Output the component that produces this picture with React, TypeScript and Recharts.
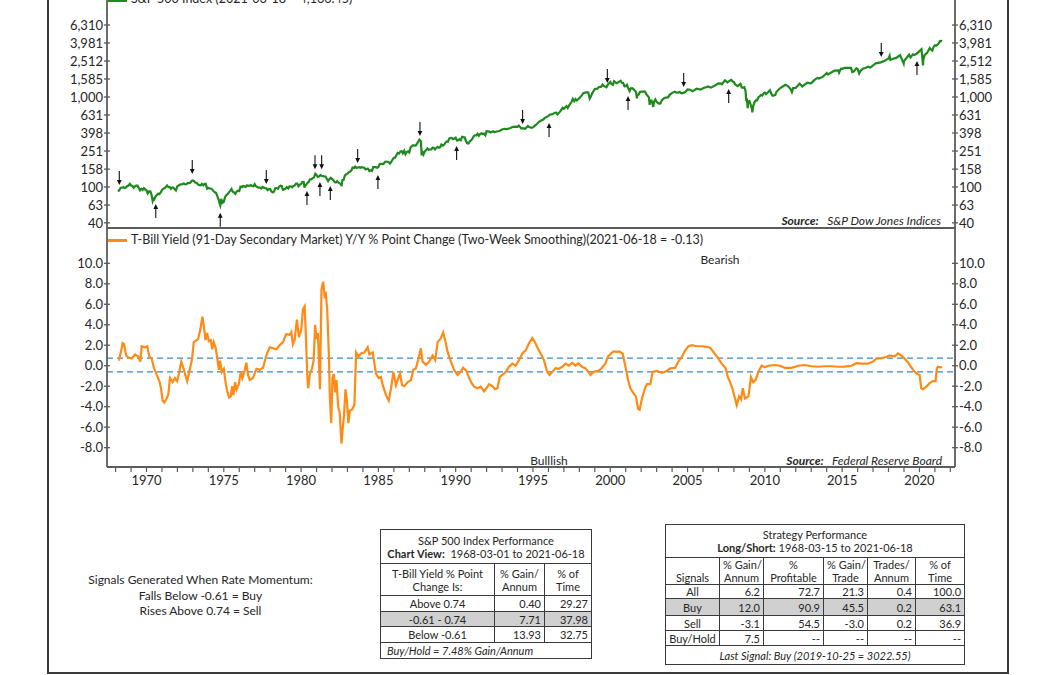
import React from 'react';
import { ComposedChart, Line, XAxis, YAxis, ReferenceLine, ReferenceDot } from 'recharts';

// ---------------- DATA ----------------
// S&P 500 index (decimal year, level)
const spPoints: [number, number][] = [
  [1968.17, 89], [1968.33, 97.5], [1968.42, 98.7], [1968.5, 99.6], [1968.58, 97.7], [1968.67, 98.9], [1968.75, 102.7], [1968.83, 103.4], [1968.92, 108.4], [1969.0, 103.9],
  [1969.08, 103], [1969.17, 98.1], [1969.25, 101.5], [1969.33, 103.7], [1969.42, 103.5], [1969.5, 97.7], [1969.58, 91.8], [1969.67, 95.5], [1969.75, 93.1], [1969.83, 97.2], [1969.92, 93.8], [1970.0, 92.1],
  [1970.08, 85.0], [1970.17, 89.5], [1970.25, 89.6], [1970.33, 81.5], [1970.4, 70.0], [1970.45, 74], [1970.5, 72.7], [1970.58, 78.1], [1970.67, 81.5], [1970.75, 84.3], [1970.83, 83.3], [1970.92, 87.2], [1971.0, 92.2],
  [1971.08, 95.9], [1971.17, 96.8], [1971.25, 100.3], [1971.33, 103.9], [1971.42, 99.6], [1971.5, 99.7], [1971.58, 95.6], [1971.67, 99.0], [1971.75, 98.3], [1971.83, 94.2], [1971.9, 91.5], [1972.0, 102.1],
  [1972.08, 103.9], [1972.17, 106.6], [1972.25, 107.2], [1972.33, 107.7], [1972.42, 109.5], [1972.5, 107.1], [1972.58, 107.4], [1972.67, 111.1], [1972.75, 110.6], [1972.83, 111.6], [1972.92, 116.7], [1973.0, 118.1],
  [1973.08, 116.0], [1973.17, 111.7], [1973.25, 111.5], [1973.33, 107.0], [1973.42, 105.0], [1973.5, 104.3], [1973.58, 108.2], [1973.67, 104.3], [1973.75, 108.4], [1973.83, 108.3], [1973.92, 96.0], [1974.0, 97.6],
  [1974.08, 96.6], [1974.17, 96.2], [1974.25, 94.0], [1974.33, 90.3], [1974.42, 87.3], [1974.5, 86.0], [1974.58, 79.3], [1974.67, 72.2], [1974.75, 63.5], [1974.77, 62.3], [1974.83, 73.9], [1974.92, 67], [1975.0, 68.6],
  [1975.08, 77.0], [1975.17, 81.6], [1975.25, 83.4], [1975.33, 87.3], [1975.42, 91.2], [1975.5, 95.2], [1975.58, 88.8], [1975.67, 86.9], [1975.75, 83.9], [1975.83, 89.0], [1975.92, 91.2], [1976.0, 90.2],
  [1976.08, 100.9], [1976.17, 99.7], [1976.25, 102.8], [1976.33, 101.6], [1976.42, 100.2], [1976.5, 104.3], [1976.58, 103.4], [1976.67, 102.9], [1976.75, 105.2], [1976.83, 102.9], [1976.92, 102.1], [1977.0, 107.5],
  [1977.08, 102.0], [1977.17, 99.8], [1977.25, 98.4], [1977.33, 98.4], [1977.42, 96.1], [1977.5, 100.5], [1977.58, 98.9], [1977.67, 96.8], [1977.75, 96.5], [1977.83, 92.3], [1977.92, 94.8], [1978.0, 95.1],
  [1978.08, 89.3], [1978.17, 87.0], [1978.25, 89.2], [1978.33, 96.8], [1978.42, 97.2], [1978.5, 95.5], [1978.58, 100.7], [1978.67, 103.3], [1978.75, 102.5], [1978.83, 93.2], [1978.92, 94.7], [1979.0, 96.1],
  [1979.08, 99.9], [1979.17, 96.3], [1979.25, 101.6], [1979.33, 101.8], [1979.42, 99.1], [1979.5, 102.9], [1979.58, 103.8], [1979.67, 109.3], [1979.75, 109.3], [1979.83, 101.8], [1979.92, 106.2], [1980.0, 107.9],
  [1980.08, 114.2], [1980.17, 113.7], [1980.22, 98.2], [1980.25, 102.1], [1980.33, 106.3], [1980.42, 111.2], [1980.5, 114.2], [1980.58, 121.7], [1980.67, 122.4], [1980.75, 125.5], [1980.83, 127.5], [1980.92, 140.5], [1981.0, 135.8],
  [1981.08, 129.6], [1981.17, 131.3], [1981.25, 136.0], [1981.33, 132.8], [1981.42, 132.6], [1981.5, 131.2], [1981.58, 130.9], [1981.67, 122.8], [1981.75, 116.2], [1981.83, 121.9], [1981.92, 126.4], [1982.0, 122.6],
  [1982.08, 120.4], [1982.17, 113.1], [1982.25, 112.0], [1982.33, 116.4], [1982.42, 111.9], [1982.5, 109.6], [1982.58, 107.1], [1982.62, 102.4], [1982.67, 119.5], [1982.75, 120.4], [1982.83, 133.7], [1982.92, 138.5], [1983.0, 140.6],
  [1983.08, 145.3], [1983.17, 148.1], [1983.25, 153.0], [1983.33, 164.4], [1983.42, 162.4], [1983.5, 168.1], [1983.58, 162.6], [1983.67, 164.4], [1983.75, 166.1], [1983.83, 163.6], [1983.92, 166.4], [1984.0, 164.9],
  [1984.08, 163.4], [1984.17, 157.1], [1984.25, 159.2], [1984.33, 160.1], [1984.42, 150.6], [1984.5, 153.2], [1984.58, 150.7], [1984.67, 166.7], [1984.75, 166.1], [1984.83, 166.1], [1984.92, 163.6], [1985.0, 167.2],
  [1985.08, 179.6], [1985.17, 181.2], [1985.25, 180.7], [1985.33, 179.8], [1985.42, 189.6], [1985.5, 191.9], [1985.58, 190.9], [1985.67, 188.6], [1985.75, 182.1], [1985.83, 189.8], [1985.92, 202.2], [1986.0, 211.3],
  [1986.08, 211.8], [1986.17, 226.9], [1986.25, 238.9], [1986.33, 235.5], [1986.42, 247.4], [1986.5, 250.8], [1986.58, 236.1], [1986.67, 252.9], [1986.75, 231.3], [1986.83, 244.0], [1986.92, 249.2], [1987.0, 242.2],
  [1987.08, 274.1], [1987.17, 284.2], [1987.25, 291.7], [1987.33, 288.4], [1987.42, 290.1], [1987.5, 304.0], [1987.58, 318.7], [1987.65, 336], [1987.75, 321.8], [1987.8, 224.8], [1987.83, 251.8], [1987.92, 230.3], [1988.0, 247.1],
  [1988.08, 257.1], [1988.17, 267.8], [1988.25, 258.9], [1988.33, 261.3], [1988.42, 262.2], [1988.5, 273.5], [1988.58, 272.0], [1988.67, 261.5], [1988.75, 271.9], [1988.83, 279.0], [1988.92, 273.7], [1989.0, 277.7],
  [1989.08, 297.5], [1989.17, 288.9], [1989.25, 294.9], [1989.33, 309.6], [1989.42, 320.5], [1989.5, 318.0], [1989.58, 346.1], [1989.67, 351.5], [1989.75, 349.2], [1989.83, 340.4], [1989.92, 346.0], [1990.0, 353.4],
  [1990.08, 329.1], [1990.17, 331.9], [1990.25, 339.9], [1990.33, 330.8], [1990.42, 361.2], [1990.5, 358.0], [1990.58, 356.2], [1990.67, 322.6], [1990.75, 306.1], [1990.83, 304.0], [1990.92, 322.2], [1991.0, 330.2],
  [1991.08, 343.9], [1991.17, 367.1], [1991.25, 375.2], [1991.33, 375.4], [1991.42, 389.8], [1991.5, 371.2], [1991.58, 387.8], [1991.67, 395.4], [1991.75, 387.9], [1991.83, 392.5], [1991.92, 375.2], [1992.0, 417.1],
  [1992.17, 412.7], [1992.25, 403.7], [1992.42, 415.4], [1992.5, 408.1], [1992.67, 414.0], [1992.83, 418.7], [1993.0, 435.7],
  [1993.17, 443.4], [1993.33, 440.2], [1993.5, 450.5], [1993.67, 463.6], [1993.83, 467.8], [1994.0, 466.5],
  [1994.08, 481.6], [1994.25, 445.8], [1994.33, 450.9], [1994.5, 444.3], [1994.67, 475.5], [1994.75, 462.7], [1994.92, 453.7], [1995.0, 459.3],
  [1995.17, 487.4], [1995.25, 500.7], [1995.42, 533.4], [1995.5, 544.8], [1995.67, 561.9], [1995.75, 584.4], [1995.92, 605.4], [1996.0, 615.9],
  [1996.08, 636.0], [1996.25, 645.5], [1996.42, 669.1], [1996.5, 670.6], [1996.58, 640.0], [1996.75, 687.3], [1996.92, 757.0], [1997.0, 740.7],
  [1997.17, 790.8], [1997.25, 757.1], [1997.33, 801.3], [1997.5, 885.1], [1997.58, 954.3], [1997.67, 899.5], [1997.75, 947.3], [1997.83, 914.6], [1998.0, 970.4],
  [1998.17, 1049.3], [1998.25, 1101.8], [1998.5, 1133.8], [1998.58, 1120.7], [1998.67, 957.3], [1998.75, 1017.0], [1998.83, 1098.7], [1999.0, 1229.2],
  [1999.17, 1238.3], [1999.25, 1286.4], [1999.42, 1301.8], [1999.5, 1372.7], [1999.58, 1328.7], [1999.75, 1282.7], [1999.83, 1362.9], [2000.0, 1469.3],
  [2000.08, 1394.5], [2000.17, 1366.4], [2000.25, 1498.6], [2000.33, 1452.4], [2000.42, 1420.6], [2000.5, 1454.6], [2000.67, 1517.7], [2000.75, 1436.5], [2000.83, 1429.4], [2000.92, 1315.2], [2001.0, 1320.3],
  [2001.08, 1366.0], [2001.17, 1239.9], [2001.25, 1160.3], [2001.33, 1249.5], [2001.42, 1255.8], [2001.5, 1224.4], [2001.67, 1133.6], [2001.72, 965.8], [2001.75, 1040.9], [2001.83, 1059.8], [2001.92, 1139.5], [2002.0, 1148.1],
  [2002.25, 1147.4], [2002.33, 1076.9], [2002.5, 989.8], [2002.55, 819.9], [2002.58, 911.6], [2002.67, 916.1], [2002.75, 815.3], [2002.78, 776.8], [2002.83, 885.8], [2002.92, 936.3], [2003.0, 879.8],
  [2003.17, 841.2], [2003.25, 848.2], [2003.33, 916.9], [2003.5, 974.5], [2003.75, 996.0], [2003.83, 1050.7], [2004.0, 1111.9],
  [2004.17, 1144.9], [2004.25, 1126.2], [2004.42, 1120.7], [2004.5, 1140.8], [2004.58, 1101.7], [2004.67, 1104.2], [2004.83, 1130.2], [2005.0, 1211.9],
  [2005.17, 1203.6], [2005.33, 1156.9], [2005.58, 1234.2], [2005.83, 1207.0], [2006.0, 1248.3],
  [2006.33, 1310.6], [2006.5, 1270.2], [2006.75, 1335.9], [2007.0, 1418.3],
  [2007.17, 1406.8], [2007.22, 1387], [2007.42, 1530.6], [2007.58, 1455.3], [2007.75, 1526.8], [2007.83, 1549.4], [2007.92, 1481.1], [2008.0, 1468.4],
  [2008.08, 1378.6], [2008.25, 1322.7], [2008.42, 1400.4], [2008.5, 1280.0], [2008.58, 1267.4], [2008.67, 1282.8], [2008.75, 1166.4], [2008.8, 899], [2008.83, 968.8], [2008.89, 752.4], [2008.92, 896.2], [2009.0, 903.3],
  [2009.08, 825.9], [2009.17, 735.1], [2009.19, 676.5], [2009.25, 797.9], [2009.33, 872.8], [2009.42, 919.1], [2009.5, 919.3], [2009.58, 987.5], [2009.67, 1020.6], [2009.75, 1057.1], [2009.83, 1036.2], [2009.92, 1095.6], [2010.0, 1115.1],
  [2010.08, 1073.9], [2010.33, 1186.7], [2010.42, 1089.4], [2010.5, 1030.7], [2010.67, 1049.3], [2010.75, 1141.2], [2011.0, 1257.6],
  [2011.33, 1363.6], [2011.5, 1320.6], [2011.67, 1218.9], [2011.75, 1131.4], [2011.83, 1253.3], [2012.0, 1257.6],
  [2012.25, 1408.5], [2012.42, 1310.3], [2012.75, 1440.7], [2012.92, 1416.2], [2013.0, 1426.2],
  [2013.25, 1569.2], [2013.42, 1630.7], [2013.5, 1606.3], [2013.75, 1681.6], [2014.0, 1848.4],
  [2014.08, 1782.6], [2014.5, 1960.2], [2014.75, 1972.3], [2014.8, 1862], [2014.92, 2067.6], [2015.0, 2058.9],
  [2015.17, 2104.5], [2015.42, 2107.4], [2015.58, 2103.8], [2015.65, 1893], [2015.75, 1920.0], [2015.92, 2080.4], [2016.0, 2043.9],
  [2016.1, 1829], [2016.17, 1932.2], [2016.33, 2065.3], [2016.5, 2098.9], [2016.67, 2171.0], [2016.83, 2126.2], [2017.0, 2238.8],
  [2017.17, 2363.6], [2017.5, 2423.4], [2017.75, 2519.4], [2018.0, 2673.6],
  [2018.07, 2872.9], [2018.12, 2581], [2018.25, 2640.9], [2018.5, 2718.4], [2018.75, 2914.0], [2018.83, 2711.7], [2018.98, 2351], [2019.0, 2506.9],
  [2019.25, 2834.4], [2019.33, 2945.8], [2019.42, 2752.1], [2019.58, 2980.4], [2019.67, 2926.5], [2019.83, 3037.6], [2020.0, 3230.8],
  [2020.13, 3386.2], [2020.17, 2954.2], [2020.23, 2237.4], [2020.25, 2584.6], [2020.33, 2912.4], [2020.5, 3100.3], [2020.67, 3500.3], [2020.75, 3363.0], [2020.83, 3270.0], [2020.92, 3621.6], [2021.0, 3756.1],
  [2021.08, 3714.2], [2021.17, 3811.2], [2021.25, 3972.9], [2021.33, 4181.2], [2021.42, 4204.1], [2021.46, 4166.5],
];

// Signal arrows on the S&P panel (decimal year, index level)
const sellSignals: [number, number][] = [
  [1968.24, 92.6], [1972.96, 122.7], [1977.75, 95], [1980.9, 139], [1981.33, 139], [1983.66, 162.6],
  [1987.69, 324], [1994.33, 441], [1999.81, 1259], [2004.75, 1136], [2017.53, 2449],
];
const buySignals: [number, number][] = [
  [1970.6, 73.6], [1974.77, 59], [1980.38, 102.6], [1981.22, 129], [1981.89, 116.6], [1984.97, 154.5],
  [1990.06, 324], [1996.04, 584], [2001.15, 1166], [2007.66, 1394], [2019.84, 2855],
];

// T-Bill yield Y/Y % point change (decimal year, value)
const tbPoints: [number, number][] = [
  [1968.17, 0.6], [1968.23, 0.6], [1968.35, 1.4], [1968.46, 2.2], [1968.55, 2.1], [1968.68, 1.0], [1968.83, 0.8], [1969.04, 0.7], [1969.26, 1.1], [1969.47, 0.9], [1969.6, 0.4],
  [1969.69, 1.9], [1969.9, 1.8], [1970.05, 1.9], [1970.18, 0.9], [1970.33, 0.7], [1970.48, -0.2], [1970.66, -0.9], [1970.83, -1.5], [1970.94, -2.2], [1971.04, -3.4], [1971.15, -3.6],
  [1971.3, -3.2], [1971.41, -2.8], [1971.52, -1.2], [1971.69, -1.6], [1971.84, -1.2], [1971.99, -1.5], [1972.12, -0.6], [1972.25, 0.4], [1972.38, -0.2], [1972.53, -1.0], [1972.63, -1.5],
  [1972.81, -0.3], [1972.94, 0.6], [1973.06, 2.3], [1973.34, 2.6], [1973.49, 3.6], [1973.62, 4.8], [1973.73, 3.6], [1973.82, 2.5], [1973.92, 3.2], [1974.03, 2.4], [1974.16, 2.5],
  [1974.25, 1.6], [1974.35, 2.3], [1974.48, 1.7], [1974.59, 0.6], [1974.68, -0.4], [1974.76, 0.5], [1974.87, -0.6], [1975.0, -0.3], [1975.13, -1.8], [1975.24, -2.6], [1975.34, -3.1],
  [1975.45, -3.0], [1975.54, -2.0], [1975.62, -2.9], [1975.73, -1.6], [1975.82, -2.3], [1975.97, -1.8], [1976.1, -0.6], [1976.2, -1.2], [1976.33, -0.6], [1976.46, 0.3], [1976.57, -0.9],
  [1976.68, -1.4], [1976.89, -1.2], [1977.11, -0.3], [1977.32, -0.4], [1977.54, -0.2], [1977.75, 1.0], [1977.97, 1.8], [1978.18, 1.7], [1978.4, 1.6], [1978.61, 2.0], [1978.83, 2.3],
  [1979.04, 3.1], [1979.26, 3.0], [1979.37, 3.3], [1979.47, 2.1], [1979.58, 2.5], [1979.73, 4.5], [1979.86, 2.8], [1980.01, 3.5], [1980.12, 5.5], [1980.23, 5.8], [1980.31, 3.0],
  [1980.4, -1.0], [1980.46, -2.2], [1980.57, -0.8], [1980.7, -0.3], [1980.81, 0.5], [1980.91, 4.0], [1981.0, 2.6], [1981.09, 3.2], [1981.22, -2.3], [1981.32, 7.5], [1981.43, 8.2],
  [1981.52, 6.8], [1981.6, 7.0], [1981.69, 5.5], [1981.8, 1.0], [1981.86, -3.0], [1981.95, -5.6], [1982.03, -1.2], [1982.12, -0.8], [1982.2, -2.6], [1982.29, -1.4], [1982.4, -4.0],
  [1982.5, -4.6], [1982.61, -7.6], [1982.7, -6.0], [1982.78, -4.8], [1982.87, -2.3], [1982.96, -3.3], [1983.06, -5.6], [1983.15, -4.4], [1983.3, -4.3], [1983.45, -3.8], [1983.56, 1.3],
  [1983.71, 0.9], [1983.88, 1.2], [1984.1, 1.3], [1984.31, 1.8], [1984.42, 1.1], [1984.63, 1.3], [1984.85, -0.8], [1985.02, -1.2], [1985.17, -1.1], [1985.28, -1.9], [1985.5, -2.9],
  [1985.67, -3.4], [1985.82, -2.2], [1985.97, -0.6], [1986.14, -1.9], [1986.29, -1.2], [1986.4, -0.75], [1986.53, -1.9], [1986.68, -2.0], [1986.9, -1.6], [1987.11, -1.4], [1987.26, -0.4],
  [1987.43, -0.25], [1987.6, 0.7], [1987.75, 1.7], [1987.86, 0.4], [1988.08, 0.1], [1988.29, 0.4], [1988.51, 1.0], [1988.68, 0.55], [1988.83, 2.3], [1989.04, 2.7], [1989.19, 3.25],
  [1989.32, 2.5], [1989.47, 1.4], [1989.69, 0.4], [1989.9, -0.4], [1990.12, -0.9], [1990.33, -0.6], [1990.48, -0.2], [1990.7, -0.5], [1990.87, -1.2], [1991.04, -1.7], [1991.19, -2.05],
  [1991.4, -2.2], [1991.62, -2.05], [1991.84, -2.5], [1991.99, -2.2], [1992.16, -1.8], [1992.38, -2.0], [1992.55, -2.3], [1992.7, -2.2], [1992.85, -1.1], [1993.02, -0.9], [1993.24, -0.6],
  [1993.45, -0.1], [1993.67, 0.2], [1993.88, 0.0], [1994.1, 0.55], [1994.31, 1.2], [1994.53, 1.5], [1994.74, 2.2], [1994.96, 2.7], [1995.13, 2.3], [1995.28, 1.8], [1995.49, 1.2],
  [1995.71, 0.55], [1995.92, -0.6], [1996.07, -0.9], [1996.25, -0.6], [1996.46, -0.25], [1996.68, -0.3], [1996.89, -0.1], [1997.11, 0.2], [1997.32, 0.0], [1997.54, 0.3], [1997.75, 0.0],
  [1997.92, 0.25], [1998.18, -0.1], [1998.39, -0.25], [1998.6, -0.6], [1998.71, -0.9], [1998.92, -0.6], [1999.25, -0.5], [1999.46, -0.2], [1999.68, 0.2], [1999.85, 0.9], [2000.06, 1.2],
  [2000.22, 1.4], [2000.43, 1.35], [2000.58, 1.4], [2000.8, 1.2], [2000.97, 0.0], [2001.15, -1.4], [2001.3, -2.2], [2001.51, -2.7], [2001.66, -3.0], [2001.8, -4.2], [2001.9, -4.3],
  [2002.05, -3.2], [2002.27, -2.1], [2002.38, -1.8], [2002.59, -1.8], [2002.74, -0.6], [2003.02, -0.5], [2003.34, -0.7], [2003.56, -0.6], [2003.88, -0.25], [2004.2, -0.2], [2004.42, 0.45],
  [2004.63, 0.85], [2004.85, 1.5], [2005.06, 1.9], [2005.28, 2.0], [2005.6, 1.9], [2005.92, 1.9], [2006.24, 1.85], [2006.46, 1.75], [2006.67, 1.35], [2006.95, 0.78], [2007.21, 0.2],
  [2007.47, -0.25], [2007.6, -1.1], [2007.75, -1.6], [2007.9, -2.2], [2008.07, -3.2], [2008.18, -3.85], [2008.33, -3.0], [2008.46, -3.3], [2008.57, -2.2], [2008.72, -3.2], [2008.94, -3.0],
  [2009.1, -1.1], [2009.25, -1.6], [2009.4, -1.4], [2009.58, -0.6], [2009.79, 0.0], [2010.01, -0.15], [2010.22, 0.0], [2010.65, 0.07], [2010.97, 0.0], [2011.3, -0.2], [2011.73, -0.2],
  [2012.16, 0.0], [2012.59, 0.07], [2013.02, -0.05], [2013.45, -0.1], [2013.88, -0.05], [2014.31, -0.05], [2014.74, -0.1], [2015.17, -0.08], [2015.6, 0.0], [2015.92, 0.25], [2016.24, 0.2],
  [2016.67, 0.2], [2017.0, 0.4], [2017.21, 0.7], [2017.53, 0.75], [2017.85, 0.85], [2018.07, 1.0], [2018.39, 0.9], [2018.61, 1.2], [2018.82, 1.0], [2019.04, 0.7], [2019.25, 0.35],
  [2019.47, -0.15], [2019.69, -0.6], [2019.8, -0.75], [2020.01, -0.9], [2020.12, -2.2], [2020.23, -2.3], [2020.44, -2.05], [2020.66, -1.7], [2020.87, -1.5], [2021.04, -1.5], [2021.13, -0.25],
  [2021.19, -0.1], [2021.32, -0.15], [2021.46, -0.13],
];

const sellThreshold = 0.74;
const buyThreshold = -0.61;

const spTicks = [40, 63, 100, 158, 251, 398, 631, 1000, 1585, 2512, 3981, 6310];
const spTickLabels = ['40', '63', '100', '158', '251', '398', '631', '1,000', '1,585', '2,512', '3,981', '6,310'];
const tbTicks = [-8, -6, -4, -2, 0, 2, 4, 6, 8, 10];
const tbTickLabels = ['-8.0', '-6.0', '-4.0', '-2.0', '0.0', '2.0', '4.0', '6.0', '8.0', '10.0'];
const yearTicks = [
  1968, 1969, 1970, 1971, 1972, 1973, 1974, 1975, 1976, 1977, 1978, 1979, 1980, 1981, 1982, 1983, 1984, 1985,
  1986, 1987, 1988, 1989, 1990, 1991, 1992, 1993, 1994, 1995, 1996, 1997, 1998, 1999, 2000, 2001, 2002, 2003,
  2004, 2005, 2006, 2007, 2008, 2009, 2010, 2011, 2012, 2013, 2014, 2015, 2016, 2017, 2018, 2019, 2020, 2021, 2022,
];
const yearLabels = [1970, 1975, 1980, 1985, 1990, 1995, 2000, 2005, 2010, 2015, 2020];

// Tables
const perfHeader = ['T-Bill Yield % Point Change Is:', '% Gain/ Annum', '% of Time'];
const perfRanges = ['Above 0.74', '-0.61 - 0.74', 'Below -0.61'];
const perfGain = ['0.40', '7.71', '13.93'];
const perfTime = ['29.27', '37.98', '32.75'];

const stratHeader = ['Signals', '% Gain/ Annum', '% Profitable', '% Gain/ Trade', 'Trades/ Annum', '% of Time'];
const stratRows: string[][] = [
  ['All', '6.2', '72.7', '21.3', '0.4', '100.0'],
  ['Buy', '12.0', '90.9', '45.5', '0.2', '63.1'],
  ['Sell', '-3.1', '54.5', '-3.0', '0.2', '36.9'],
  ['Buy/Hold', '7.5', '--', '--', '--', '--'],
];

// ---------------- STYLE ----------------
const FONT = "Lato, 'Noto Sans', sans-serif";
const AXIS = '#5c5c5c';
const TEXT = '#262626';
const GREEN = '#1d8a1d';
const ORANGE = '#ff8a14';
const DASH = '#3b8bbd';
const X_DOMAIN: [number, number] = [1967.445, 2022.3];
const SP_DOMAIN: [number, number] = [35.04, 16255];
const TB_DOMAIN: [number, number] = [-9.89, 13.45];

const spData = spPoints.map(([x, y]) => ({ x, y }));
const tbData = tbPoints.map(([x, y]) => ({ x, y }));

function makeTick(side: 'left' | 'right', ticks: number[], labels: string[]) {
  return (props: any) => {
    const { x, y, payload } = props;
    const i = ticks.indexOf(payload.value);
    const label = i >= 0 ? labels[i] : '';
    const axisX = side === 'left' ? x + 4 : x - 4;
    return (
      <g>
        <line x1={axisX - 3} x2={axisX + 3} y1={y} y2={y} stroke={AXIS} strokeWidth={1.3} />
        <text x={x} y={y} dy="0.36em" textAnchor={side === 'left' ? 'end' : 'start'} fontFamily={FONT} fontSize={13} fill={TEXT}>
          {label}
        </text>
      </g>
    );
  };
}

function arrowShape(dir: 'buy' | 'sell') {
  return (p: any) => {
    const { cx, cy } = p;
    const up = dir === 'buy';
    const tip = up ? cy + 5 : cy - 5;
    const tail = up ? tip + 14 : tip - 14;
    const h = up ? 5 : -5;
    return (
      <g>
        <line x1={cx} y1={tail} x2={cx} y2={tip + h * 0.6} stroke="#111" strokeWidth={1.1} />
        <path d={`M${cx},${tip} L${cx - 2.4},${tip + h} L${cx + 2.4},${tip + h} Z`} fill="#111" />
      </g>
    );
  };
}

const cell: React.CSSProperties = {
  border: '1px solid #3a3a3a',
  padding: '0 3px',
  fontSize: 11,
  lineHeight: '13px',
  color: TEXT,
  fontFamily: FONT,
  overflow: 'hidden',
  whiteSpace: 'nowrap',
};

function twoLine(s: string) {
  if (s.startsWith('T-Bill')) return (<>T-Bill Yield % Point<br />Change Is:</>);
  const parts = s.split(' ');
  const mid = Math.ceil(parts.length / 2);
  return (<>{parts.slice(0, mid).join(' ')}<br />{parts.slice(mid).join(' ')}</>);
}

export default function App() {
  return (
    <div style={{ position: 'fixed', left: 0, top: 0, width: 1056, height: 675, overflow: 'hidden', background: '#fff', fontFamily: FONT }}>
      {/* outer frame */}
      <div style={{ position: 'absolute', left: 47, top: -20, width: 962, height: 694, border: '2px solid #3a3a3a', boxSizing: 'border-box' }} />

      {/* top panel */}
      <div style={{ position: 'absolute', left: 0, top: -20 }}>
        <ComposedChart width={1056} height={259} data={spData} margin={{ top: 8, right: 41, bottom: 10, left: 47 }}>
          <XAxis type="number" dataKey="x" domain={X_DOMAIN} allowDataOverflow ticks={yearTicks} tick={false} tickLine={false} height={1} axisLine={{ stroke: AXIS, strokeWidth: 1.8 }} />
          <YAxis yAxisId="l" orientation="left" width={60} scale="log" domain={SP_DOMAIN} allowDataOverflow ticks={spTicks} interval={0} tickSize={3} tickMargin={1} tickLine={false} tick={makeTick('left', spTicks, spTickLabels)} axisLine={{ stroke: AXIS, strokeWidth: 1.8 }} />
          <YAxis yAxisId="r" orientation="right" width={60} scale="log" domain={SP_DOMAIN} allowDataOverflow ticks={spTicks} interval={0} tickSize={3} tickMargin={1} tickLine={false} tick={makeTick('right', spTicks, spTickLabels)} axisLine={{ stroke: AXIS, strokeWidth: 1.8 }} />
          <Line yAxisId="l" type="linear" dataKey="y" stroke={GREEN} strokeWidth={2.2} dot={false} isAnimationActive={false} />
          {sellSignals.map(([x, y], i) => (
            <ReferenceDot key={'s' + i} yAxisId="l" x={x} y={y} r={0} ifOverflow="visible" shape={arrowShape('sell')} />
          ))}
          {buySignals.map(([x, y], i) => (
            <ReferenceDot key={'b' + i} yAxisId="l" x={x} y={y} r={0} ifOverflow="visible" shape={arrowShape('buy')} />
          ))}
        </ComposedChart>
      </div>

      {/* bottom panel */}
      <div style={{ position: 'absolute', left: 0, top: 218 }}>
        <ComposedChart width={1056} height={279} data={tbData} margin={{ top: 10, right: 41, bottom: 0, left: 47 }}>
          <XAxis type="number" dataKey="x" domain={X_DOMAIN} allowDataOverflow ticks={yearTicks} interval={0} height={30}
            tickFormatter={(v: number) => (yearLabels.includes(v) ? String(v) : '')}
            tickSize={5} tickMargin={4} tickLine={{ stroke: AXIS, strokeWidth: 1.2 }} axisLine={{ stroke: AXIS, strokeWidth: 1.8 }}
            tick={{ fill: TEXT, fontSize: 13, fontFamily: FONT }} />
          <YAxis yAxisId="l" orientation="left" width={60} type="number" domain={TB_DOMAIN} allowDataOverflow ticks={tbTicks} interval={0} tickSize={3} tickMargin={1} tickLine={false} tick={makeTick('left', tbTicks, tbTickLabels)} axisLine={{ stroke: AXIS, strokeWidth: 1.8 }} />
          <YAxis yAxisId="r" orientation="right" width={60} type="number" domain={TB_DOMAIN} allowDataOverflow ticks={tbTicks} interval={0} tickSize={3} tickMargin={1} tickLine={false} tick={makeTick('right', tbTicks, tbTickLabels)} axisLine={{ stroke: AXIS, strokeWidth: 1.8 }} />
          <ReferenceLine yAxisId="l" y={sellThreshold} stroke={DASH} strokeWidth={1.3} strokeDasharray="6 4" />
          <ReferenceLine yAxisId="l" y={buyThreshold} stroke={DASH} strokeWidth={1.3} strokeDasharray="6 4" />
          <Line yAxisId="l" type="linear" dataKey="y" stroke={ORANGE} strokeWidth={2.2} dot={false} isAnimationActive={false} />
        </ComposedChart>
      </div>

      {/* legends & labels */}
      <div style={{ position: 'absolute', left: 108, top: -1, width: 19, height: 3, background: GREEN }} />
      <div style={{ position: 'absolute', left: 131, top: -9, fontSize: 12.5, lineHeight: '16px', color: TEXT, whiteSpace: 'nowrap' }}>
        S&amp;P 500 Index (2021-06-18 = 4,166.45)
      </div>
      <div style={{ position: 'absolute', left: 108, top: 239, width: 19, height: 3, background: ORANGE }} />
      <div style={{ position: 'absolute', left: 131, top: 232, fontSize: 12.5, lineHeight: '16px', color: TEXT, whiteSpace: 'nowrap' }}>
        T-Bill Yield (91-Day Secondary Market) Y/Y % Point Change (Two-Week Smoothing)(2021-06-18 = -0.13)
      </div>
      <div style={{ position: 'absolute', right: 1056 - 941, top: 213, fontSize: 12, lineHeight: '15px', color: TEXT, fontStyle: 'italic', whiteSpace: 'nowrap' }}>
        <b>Source:</b>&nbsp;&nbsp;&nbsp;S&amp;P Dow Jones Indices
      </div>
      <div style={{ position: 'absolute', right: 1056 - 942, top: 453, fontSize: 12, lineHeight: '15px', color: TEXT, fontStyle: 'italic', whiteSpace: 'nowrap' }}>
        <b>Source:</b>&nbsp;&nbsp;&nbsp;Federal Reserve Board
      </div>
      <div style={{ position: 'absolute', left: 680, width: 80, textAlign: 'center', top: 252, fontSize: 12, lineHeight: '15px', color: TEXT }}>Bearish</div>
      <div style={{ position: 'absolute', left: 509, width: 80, textAlign: 'center', top: 453, fontSize: 12, lineHeight: '15px', color: TEXT }}>Bulllish</div>

      {/* signal rule note */}
      <div style={{ position: 'absolute', left: 60, width: 281, top: 572, fontSize: 12, lineHeight: '15.5px', color: TEXT, textAlign: 'center' }}>
        Signals Generated When Rate Momentum:<br />
        Falls Below -0.61 = Buy<br />
        Rises Above 0.74 = Sell
      </div>

      {/* S&P performance table */}
      <table style={{ position: 'absolute', left: 380, top: 529, width: 211, borderCollapse: 'collapse', tableLayout: 'fixed', border: '1.5px solid #333' }}>
        <colgroup><col style={{ width: 114 }} /><col style={{ width: 50 }} /><col style={{ width: 47 }} /></colgroup>
        <tbody>
          <tr style={{ height: 34 }}>
            <td colSpan={3} style={{ ...cell, textAlign: 'center' }}>S&amp;P 500 Index Performance<br /><b>Chart View:</b>&nbsp;&nbsp;1968-03-01 to 2021-06-18</td>
          </tr>
          <tr style={{ height: 32 }}>
            {perfHeader.map((h, i) => (<td key={i} style={{ ...cell, textAlign: 'center' }}>{twoLine(h)}</td>))}
          </tr>
          {perfRanges.map((r, i) => (
            <tr key={i} style={{ height: i === 1 ? 15 : 16, background: i === 1 ? '#d0d0d0' : '#fff' }}>
              <td style={{ ...cell, textAlign: 'center' }}>{r}</td>
              <td style={{ ...cell, textAlign: 'right' }}>{perfGain[i]}</td>
              <td style={{ ...cell, textAlign: 'right' }}>{perfTime[i]}</td>
            </tr>
          ))}
          <tr style={{ height: 16 }}>
            <td colSpan={3} style={{ ...cell, textAlign: 'left', fontStyle: 'italic', paddingLeft: 6 }}>Buy/Hold = 7.48% Gain/Annum</td>
          </tr>
        </tbody>
      </table>

      {/* Strategy performance table */}
      <table style={{ position: 'absolute', left: 665, top: 524, width: 299, borderCollapse: 'collapse', tableLayout: 'fixed', border: '1.5px solid #333' }}>
        <colgroup>
          <col style={{ width: 54 }} /><col style={{ width: 44 }} /><col style={{ width: 60 }} />
          <col style={{ width: 44 }} /><col style={{ width: 48 }} /><col style={{ width: 49 }} />
        </colgroup>
        <tbody>
          <tr style={{ height: 33 }}>
            <td colSpan={6} style={{ ...cell, textAlign: 'center' }}>Strategy Performance<br /><b>Long/Short:</b> 1968-03-15 to 2021-06-18</td>
          </tr>
          <tr style={{ height: 27 }}>
            {stratHeader.map((h, i) => (
              <td key={i} style={{ ...cell, textAlign: 'center', verticalAlign: 'bottom' }}>{i === 0 ? h : twoLine(h)}</td>
            ))}
          </tr>
          {stratRows.map((row, ri) => (
            <tr key={ri} style={{ height: ri === 1 ? 17 : ri === 0 ? 14 : 15, background: ri === 1 ? '#d0d0d0' : '#fff' }}>
              {row.map((v, ci) => (
                <td key={ci} style={{ ...cell, textAlign: ci === 0 ? 'center' : 'right' }}>{v}</td>
              ))}
            </tr>
          ))}
          <tr style={{ height: 19 }}>
            <td colSpan={6} style={{ ...cell, textAlign: 'center', fontStyle: 'italic' }}>Last Signal: Buy (2019-10-25 = 3022.55)</td>
          </tr>
        </tbody>
      </table>
    </div>
  );
}
